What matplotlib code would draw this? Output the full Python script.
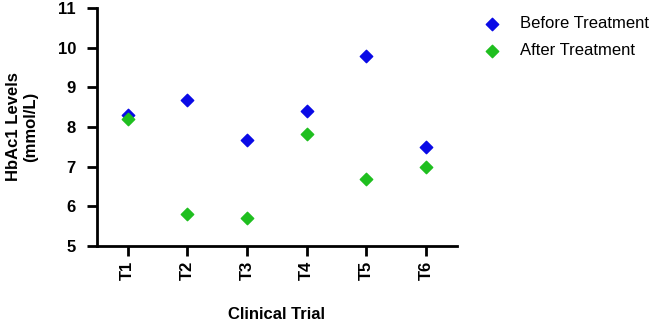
import matplotlib.pyplot as plt

plt.rcParams['font.family'] = ['Liberation Sans', 'DejaVu Sans']

trials = ["T1", "T2", "T3", "T4", "T5", "T6"]
before = [8.3, 8.68, 7.67, 8.4, 9.8, 7.5]
after = [8.2, 5.8, 5.7, 7.82, 6.7, 7.0]

fig = plt.figure(figsize=(6.54, 3.24), dpi=100)
ax = fig.add_axes([0.148, 0.241, 0.551, 0.734])

x = range(1, len(trials) + 1)
ax.scatter(x, before, marker='D', s=40, color='#0a0ae6', label='Before Treatment', zorder=3)
ax.scatter(x, after, marker='D', s=40, color='#1fbf1f', label='After Treatment', zorder=3)

ax.set_xlim(0.48, 6.52)
ax.set_ylim(5, 11)
ax.set_xticks(list(x))
ax.set_xticklabels(trials, rotation=90, fontweight='bold', fontsize=12)
ax.set_yticks(range(5, 12))
ax.set_yticklabels([str(v) for v in range(5, 12)], fontweight='bold', fontsize=12)

for side in ['top', 'right']:
    ax.spines[side].set_visible(False)
for side in ['left', 'bottom']:
    ax.spines[side].set_linewidth(2)
ax.tick_params(axis='both', width=2, length=7, direction='out', pad=4)
ax.tick_params(axis='y', pad=8)

ax.set_ylabel("HbAc1 Levels\n(mmol/L)", fontweight='bold', fontsize=12, labelpad=14)
ax.set_xlabel("Clinical Trial", fontweight='bold', fontsize=12, labelpad=19)

ax.legend(loc='upper left', bbox_to_anchor=(1.008, 1.03), frameon=False, fontsize=12,
          handletextpad=0.7, labelspacing=0.75, scatterpoints=1)

fig.savefig("out.png", dpi=100)
